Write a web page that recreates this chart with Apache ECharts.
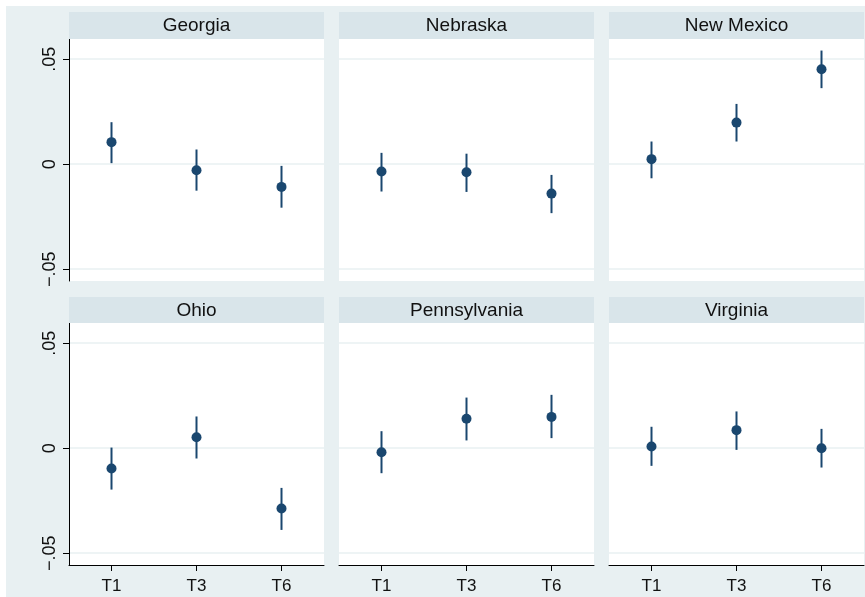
<!DOCTYPE html>
<html>
<head>
<meta charset="utf-8">
<script src="https://cdn.jsdelivr.net/npm/echarts@6/dist/echarts.min.js"></script>
<style>
html,body{margin:0;padding:0;background:#fff;}
#chart{width:865px;height:597px;}
</style>
</head>
<body>
<div id="chart"></div>
<script>
// ---- data ----
var categories = ['T1', 'T3', 'T6'];
var states = ['Georgia', 'Nebraska', 'New Mexico', 'Ohio', 'Pennsylvania', 'Virginia'];
var estGeorgia = [0.0105, -0.0029, -0.0108];
var loGeorgia = [0.0005, -0.0126, -0.0207];
var hiGeorgia = [0.0200, 0.0070, -0.0008];
var estNebraska = [-0.0035, -0.0038, -0.0140];
var loNebraska = [-0.0130, -0.0132, -0.0233];
var hiNebraska = [0.0054, 0.0050, -0.0051];
var estNewMexico = [0.0024, 0.0198, 0.0452];
var loNewMexico = [-0.0067, 0.0108, 0.0362];
var hiNewMexico = [0.0108, 0.0287, 0.0541];
var estOhio = [-0.0097, 0.0052, -0.0287];
var loOhio = [-0.0197, -0.0049, -0.0389];
var hiOhio = [0.0003, 0.0151, -0.0189];
var estPennsylvania = [-0.0019, 0.0140, 0.0149];
var loPennsylvania = [-0.0119, 0.0037, 0.0048];
var hiPennsylvania = [0.0081, 0.0241, 0.0254];
var estVirginia = [0.0008, 0.0086, 0.0000];
var loVirginia = [-0.0084, -0.0008, -0.0092];
var hiVirginia = [0.0102, 0.0175, 0.0092];
var yTickValues = [-0.05, 0, 0.05];
var yTickLabels = ['\u2212.05', '0', '.05'];

var estimates = [estGeorgia, estNebraska, estNewMexico, estOhio, estPennsylvania, estVirginia];
var lows = [loGeorgia, loNebraska, loNewMexico, loOhio, loPennsylvania, loVirginia];
var highs = [hiGeorgia, hiNebraska, hiNewMexico, hiOhio, hiPennsylvania, hiVirginia];

// ---- layout ----
var FONT = 'Liberation Sans';
var NAVY = '#1a476f';
var BG = '#e8f0f2';
var STRIP = '#d9e5ea';
var colLeft = [69, 339, 609];
var rowTop = [39, 323];
var stripTop = [12, 297];
var PW = 255, PH = 242;
var YMIN = -0.0556, YMAX = 0.0596;

var grids = [], xAxes = [], yAxes = [], series = [], graphics = [];

graphics.push({type: 'rect', z: -10, shape: {x: 6, y: 6, width: 865, height: 597}, style: {fill: BG}});

for (var i = 0; i < 6; i++) {
  var r = Math.floor(i / 3), c = i % 3;
  grids.push({left: colLeft[c], top: rowTop[r], width: PW, height: PH,
    show: true, backgroundColor: '#ffffff', borderWidth: 0});
  graphics.push({type: 'rect', z: 5, shape: {x: colLeft[c], y: stripTop[r], width: PW, height: rowTop[r] - stripTop[r]},
    style: {fill: STRIP}});
  graphics.push({type: 'text', z: 6, x: colLeft[c] + PW / 2, y: (stripTop[r] + rowTop[r]) / 2 + 0.5,
    style: {text: states[i], fill: '#111', fontSize: 19, fontFamily: FONT, align: 'center', verticalAlign: 'middle'}});

  var bottomRow = r === 1;
  xAxes.push({type: 'category', gridIndex: i, data: categories, boundaryGap: true,
    axisLine: {show: bottomRow, onZero: false, lineStyle: {color: '#000', width: 1}},
    axisTick: {show: bottomRow, alignWithLabel: true, length: 6, lineStyle: {color: '#000', width: 1}},
    axisLabel: {show: bottomRow, margin: 13, color: '#111', fontSize: 17, fontFamily: FONT},
    splitLine: {show: false}});

  var leftCol = c === 0;
  yAxes.push({type: 'value', gridIndex: i, min: YMIN, max: YMAX,
    axisLine: {show: leftCol, lineStyle: {color: '#000', width: 1}},
    axisTick: {show: leftCol, length: 6, customValues: yTickValues, lineStyle: {color: '#000', width: 1}},
    axisLabel: {show: leftCol, customValues: yTickValues, rotate: 90, margin: 10, color: '#111', fontSize: 18, fontFamily: FONT,
      formatter: function (v) {
        for (var k = 0; k < yTickValues.length; k++) { if (Math.abs(v - yTickValues[k]) < 1e-9) return yTickLabels[k]; }
        return '';
      }},
    splitLine: {show: true, lineStyle: {color: BG, width: 1.5}}});

  var ciData = categories.map(function (cat, j) { return [j, lows[i][j], highs[i][j]]; });
  series.push({type: 'custom', xAxisIndex: i, yAxisIndex: i, data: ciData, z: 3,
    renderItem: function (params, api) {
      var p1 = api.coord([api.value(0), api.value(1)]);
      var p2 = api.coord([api.value(0), api.value(2)]);
      return {type: 'line', shape: {x1: p1[0], y1: p1[1], x2: p2[0], y2: p2[1]},
        style: {stroke: NAVY, lineWidth: 2}};
    }});
  series.push({type: 'scatter', xAxisIndex: i, yAxisIndex: i, data: estimates[i], z: 4,
    symbol: 'circle', symbolSize: 10, itemStyle: {color: NAVY, opacity: 1}});
}

var chart = echarts.init(document.getElementById('chart'), null, {renderer: 'canvas'});
chart.setOption({
  animation: false,
  backgroundColor: '#ffffff',
  grid: grids, xAxis: xAxes, yAxis: yAxes, series: series,
  graphic: graphics
});
</script>
</body>
</html>
